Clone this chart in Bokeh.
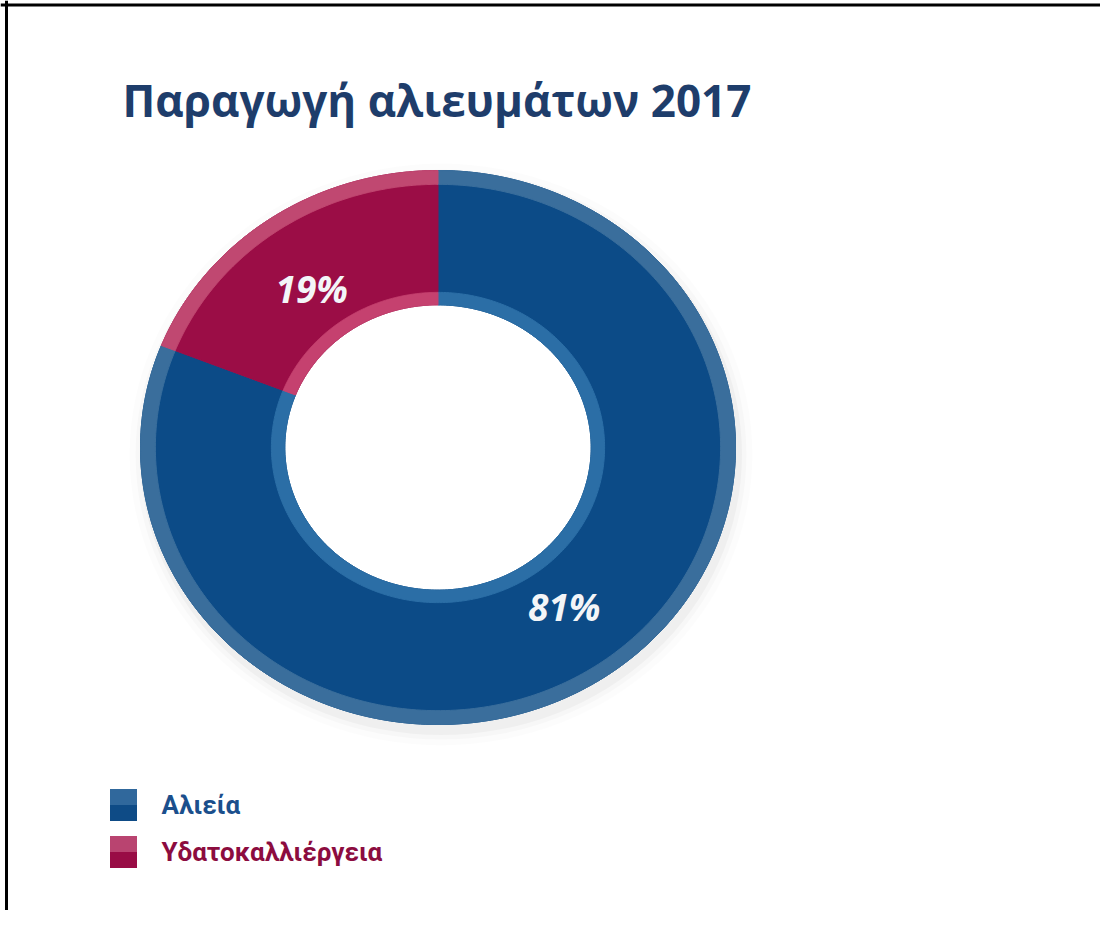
import numpy as np
from bokeh.plotting import figure
from bokeh.models import Range1d, Span, ColumnDataSource
from bokeh.embed import file_html
from bokeh.resources import INLINE
from bokeh.core.properties import value

# ---------------- data ----------------
TITLE = ["Παραγωγή αλιευμάτων 2017"]
CATEGORIES = ["Αλιεία", "Υδατοκαλλιέργεια"]
SHARES = [81, 19]
PCT_LABELS = ["81%", "19%"]

# ---------------- styles ----------------
BODY_COLORS = ["#0c4b87", "#9b0d46"]
RIM_OUT_COLORS = ["#3a6e9c", "#c04871"]
RIM_IN_COLORS = ["#2b6ea6", "#c5416f"]
TEXT_COLORS = ["#1b4f8c", "#8c0c3f"]
LEGEND_TOP = ["#30689c", "#b94470"]
LEGEND_BOTTOM = ["#0e4b86", "#990c45"]
TITLE_COLOR = "#1e3d6b"
FONT = "Open Sans"
LEG_FONT = "Roboto"

# figure size; data units = picture pixels
W, H = 1100, 910

# donut geometry (px)
CX, CY = 437.5, 447.0
RX, RY = 297.5, 277.0
R_IN, R_IN_RIM, R_OUT_RIM, R_OUT = 0.515, 0.56, 0.95, 1.0
LBL_FX, LBL_FY = 0.755, 0.695

p = figure(width=W, height=H, output_backend="svg", toolbar_location=None,
           x_range=Range1d(0, W), y_range=Range1d(H, 0),
           x_axis_type=None, y_axis_type=None, min_border=0,
           background_fill_color="white", border_fill_color="white",
           outline_line_color=None)
p.grid.visible = False

# frame lines (top and left)
p.add_layout(Span(location=4.5, dimension="width", line_color="black", line_width=3))
p.add_layout(Span(location=6.0, dimension="height", line_color="black", line_width=3))

# soft shadow
for k, a in [(28, 0.012), (16, 0.02), (7, 0.03)]:
    p.ellipse(x=CX + 3, y=CY + 7, width=2 * RX + k, height=2 * RY + k,
              fill_color="#000000", fill_alpha=a, line_color=None)
p.ellipse(x=CX, y=CY, width=2 * RX * R_IN, height=2 * RY * R_IN,
          fill_color="white", line_color=None)

# wedges (clockwise from 12 o'clock)
total = float(sum(SHARES))
cum = np.concatenate([[0.0], np.cumsum(SHARES)])
a_start = np.pi / 2 - 2 * np.pi * cum[:-1] / total
a_end = np.pi / 2 - 2 * np.pi * cum[1:] / total


def ring_patch(a0, a1, r0, r1, n=300):
    t = np.linspace(a0, a1, n)
    xo = CX + r1 * RX * np.cos(t)
    yo = CY - r1 * RY * np.sin(t)
    tr = t[::-1]
    xi = CX + r0 * RX * np.cos(tr)
    yi = CY - r0 * RY * np.sin(tr)
    return list(np.concatenate([xo, xi])), list(np.concatenate([yo, yi]))


def layer(r0, r1, colors):
    xs, ys = [], []
    for a0, a1 in zip(a_start, a_end):
        x, y = ring_patch(a0, a1, r0, r1)
        xs.append(x)
        ys.append(y)
    src = ColumnDataSource(dict(xs=xs, ys=ys, c=colors))
    p.patches("xs", "ys", source=src, fill_color="c", line_color="c", line_width=1)


layer(R_IN, R_OUT, BODY_COLORS)
layer(R_OUT_RIM, R_OUT, RIM_OUT_COLORS)
layer(R_IN, R_IN_RIM, RIM_IN_COLORS)

# percentage labels
mid = (a_start + a_end) / 2
lbl_src = ColumnDataSource(dict(
    x=CX + LBL_FX * RX * np.cos(mid),
    y=CY - LBL_FY * RY * np.sin(mid),
    t=PCT_LABELS))
p.text("x", "y", text="t", source=lbl_src, text_align="center", text_baseline="middle",
       text_font=value(FONT), text_font_style="bold italic", text_font_size="37px",
       text_color="#f3f5f8")

# title
p.text(x=[122], y=[99], text=TITLE, text_align="left", text_baseline="middle",
       text_font=value(FONT), text_font_style="bold", text_font_size="44px",
       text_color=TITLE_COLOR)

# legend
LEG_X, LEG_Y, LEG_STEP = 123.0, 804.5, 47.0
SQ_W, SQ_H = 27.0, 32.0
idx = np.arange(len(CATEGORIES))
leg_y = LEG_Y + LEG_STEP * idx
p.rect(x=[LEG_X] * len(idx), y=list(leg_y - SQ_H / 4), width=SQ_W, height=SQ_H / 2,
       fill_color=LEGEND_TOP, line_color=None)
p.rect(x=[LEG_X] * len(idx), y=list(leg_y + SQ_H / 4), width=SQ_W, height=SQ_H / 2,
       fill_color=LEGEND_BOTTOM, line_color=None)
leg_src = ColumnDataSource(dict(x=[161.0] * len(idx), y=list(leg_y), t=CATEGORIES,
                                c=TEXT_COLORS))
p.text("x", "y", text="t", source=leg_src, text_align="left", text_baseline="middle",
       text_font=value(LEG_FONT), text_font_style="bold", text_font_size="26px",
       text_color="c")

open("out.html", "w").write(file_html(p, INLINE))
